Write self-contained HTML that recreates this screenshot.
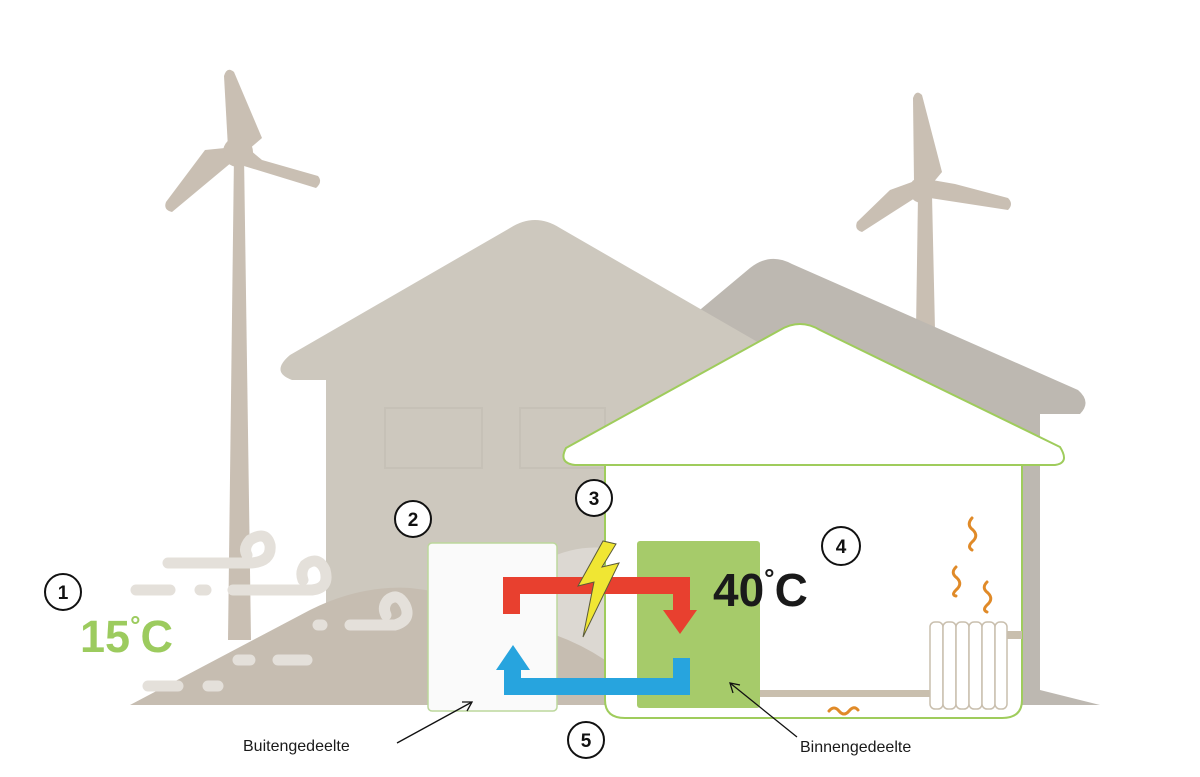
<!DOCTYPE html>
<html><head><meta charset="utf-8"><style>
html,body{margin:0;padding:0;background:#fff;}
svg{display:block;}
text{font-family:"Liberation Sans",sans-serif;}
</style></head><body>
<svg width="1200" height="777" viewBox="0 0 1200 777" xmlns="http://www.w3.org/2000/svg">
<rect width="1200" height="777" fill="#fff"/>
<!-- windmill 1 -->
<polygon points="234,155 244,155 251,640 228,640" fill="#c9bfb3"/>
<path d="M228,148 L224,76 Q227,66 234,72 L262,138 L248,150 Z" fill="#c9bfb3"/>
<path d="M232,162 L172,212 Q163,210 166,202 L205,150 L225,148 Z" fill="#c9bfb3"/>
<path d="M244,166 L316,188 Q323,182 318,176 L262,160 L250,150 Z" fill="#c9bfb3"/>
<circle cx="238" cy="152" r="15" fill="#c9bfb3"/>
<!-- windmill 2 -->
<polygon points="918,195 932,195 935,330 916,330" fill="#c9bfb3"/>
<path d="M914,182 L913,98 Q916,89 922,95 L942,172 L932,184 Z" fill="#c9bfb3"/>
<path d="M915,198 L862,232 Q854,230 857,222 L890,190 L912,182 Z" fill="#c9bfb3"/>
<path d="M930,198 L1008,210 Q1014,204 1008,198 L955,184 L932,180 Z" fill="#c9bfb3"/>
<circle cx="922" cy="190" r="13" fill="#c9bfb3"/>
<!-- second gray house -->
<path d="M640,360 L750,268 Q770,252 792,264 L1078,390 Q1092,402 1080,414 L1040,414 L1040,690 L1100,705 L640,705 Z" fill="#bdb8b1"/>
<!-- big back house -->
<path d="M326,380 L292,380 Q270,372 290,355 L510,228 Q535,212 560,228 L820,378 L820,705 L326,705 Z" fill="#cdc8be"/>
<rect x="385" y="408" width="97" height="60" fill="none" stroke="#c6c1b7" stroke-width="2"/>
<rect x="520" y="408" width="85" height="60" fill="none" stroke="#c6c1b7" stroke-width="2"/>
<!-- ground -->
<path d="M130,705 L310,610 Q360,585 410,588 Q470,595 540,615 L620,650 L620,705 Z" fill="#c6bdb1"/>
<path d="M545,560 Q575,545 605,548 L605,660 Q575,640 540,630 Z" fill="#dcd8d2"/>
<!-- wind -->
<g stroke="#e4e0da" stroke-width="11" stroke-linecap="round" fill="none">
<path d="M168,563 L250,563 Q272,562 270,545 Q266,530 250,540 Q243,548 247,555"/>
<path d="M233,590 L312,590 Q330,588 325,570 Q318,555 305,565 Q300,572 303,580"/>
<path d="M350,625 L395,625 Q412,620 405,605 Q398,592 388,600 Q382,607 386,615"/>
<line x1="136" y1="590" x2="170" y2="590"/><line x1="200" y1="590" x2="206" y2="590"/>
<line x1="318" y1="625" x2="322" y2="625"/>
<line x1="238" y1="660" x2="250" y2="660"/><line x1="278" y1="660" x2="307" y2="660"/>
<line x1="148" y1="686" x2="178" y2="686"/><line x1="208" y1="686" x2="218" y2="686"/>
</g>
<!-- front house -->
<path d="M605,463 L605,700 Q605,718 625,718 L1002,718 Q1022,718 1022,700 L1022,463 Z" fill="#fff" stroke="#9fcc5c" stroke-width="2"/>
<path d="M575,465 Q558,463 566,448 L780,330 Q800,318 820,330 L1060,447 Q1070,463 1055,465 Z" fill="#fff" stroke="#9fcc5c" stroke-width="2"/>
<!-- pipes -->
<rect x="760" y="690" width="172" height="7" fill="#c9bfae"/>
<rect x="1005" y="631" width="17" height="8" fill="#c9bfae"/>
<!-- radiator -->
<g fill="#fff" stroke="#c9bfae" stroke-width="1.5">
<rect x="930" y="622" width="13" height="87" rx="5"/><rect x="943" y="622" width="13" height="87" rx="5"/>
<rect x="956" y="622" width="13" height="87" rx="5"/><rect x="969" y="622" width="13" height="87" rx="5"/>
<rect x="982" y="622" width="13" height="87" rx="5"/><rect x="995" y="622" width="12" height="87" rx="5"/>
</g>
<g stroke="#e08a28" stroke-width="3" fill="none" stroke-linecap="round">
<path d="M972,518 Q966,525 973,530 Q979,536 972,542 Q967,547 972,550"/>
<path d="M956,567 Q950,573 957,578 Q963,584 956,590 Q951,595 956,596"/>
<path d="M987,582 Q981,588 988,593 Q994,599 987,605 Q982,610 987,612"/>
<path d="M829,711 Q834,705 839,711 Q844,717 849,711 Q854,705 858,710"/>
</g>
<!-- units -->
<rect x="428" y="543" width="129" height="168" rx="4" fill="#fafafa" stroke="#bcd79c" stroke-width="1.5"/>
<rect x="637" y="541" width="123" height="167" rx="3" fill="#a6cb6a"/>
<!-- red arrow -->
<path d="M503,614 L503,577 L690,577 L690,610 L697,610 L680,634 L663,610 L673,610 L673,594 L520,594 L520,614 Z" fill="#e8402f"/>
<!-- blue arrow -->
<path d="M690,658 L690,695 L504,695 L504,670 L496,670 L513,645 L530,670 L521,670 L521,678 L673,678 L673,658 Z" fill="#27a4de"/>
<!-- lightning -->
<polygon points="603,541 578,586 594,582 583,637 619,563 602,567 616,544" fill="#f0e633" stroke="#5a5a3a" stroke-width="1"/>
<!-- circles -->
<g fill="#fff" stroke="#111" stroke-width="2">
<circle cx="63" cy="592" r="18"/><circle cx="413" cy="519" r="18"/><circle cx="594" cy="498" r="18"/>
<circle cx="841" cy="546" r="19"/><circle cx="586" cy="740" r="18"/>
</g>
<g font-weight="bold" font-size="19" fill="#111" text-anchor="middle">
<text x="63" y="599">1</text><text x="413" y="526">2</text><text x="594" y="505">3</text>
<text x="841" y="553">4</text><text x="586" y="747">5</text>
</g>
<text x="80" y="652" font-size="45" font-weight="bold" fill="#9ccb5e">15<tspan font-size="26" dy="-18">°</tspan><tspan dy="18">C</tspan></text>
<text x="713" y="606" font-size="46" font-weight="bold" fill="#1a1a1a">40<tspan font-size="26" dy="-19">°</tspan><tspan dy="19">C</tspan></text>
<text x="243" y="751" font-size="16" fill="#1a1a1a">Buitengedeelte</text>
<text x="800" y="752" font-size="16" fill="#1a1a1a">Binnengedeelte</text>
<g stroke="#111" stroke-width="1.3" fill="none">
<line x1="397" y1="743" x2="472" y2="702"/><polyline points="462,702 472,702 467,711"/>
<line x1="797" y1="737" x2="730" y2="683"/><polyline points="733,693 730,683 740,685"/>
</g>
</svg>
</body></html>
